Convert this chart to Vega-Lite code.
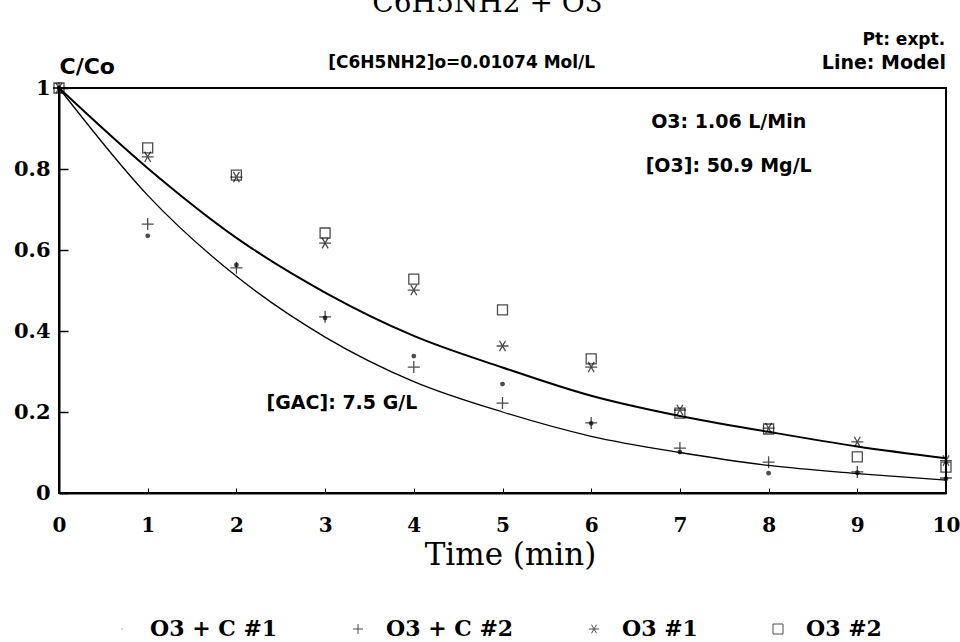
{
  "$schema": "https://vega.github.io/schema/vega-lite/v6.json",
  "autosize": {"type": "none"},
  "width": 887,
  "height": 405,
  "padding": {"left": 59, "top": 88, "right": 14, "bottom": 149},
  "background": "white",
  "config": {
    "view": {"stroke": "black", "strokeWidth": 2},
    "axis": {"grid": false, "domainColor": "black", "domainWidth": 2, "tickColor": "black", "labelColor": "black", "titleColor": "black"}
  },
  "datasets": {
    "points": [
      {"series": "O3 + C #1", "t": 0, "c": 1.0},
      {"series": "O3 + C #1", "t": 1, "c": 0.635},
      {"series": "O3 + C #1", "t": 2, "c": 0.563},
      {"series": "O3 + C #1", "t": 3, "c": 0.432},
      {"series": "O3 + C #1", "t": 4, "c": 0.338},
      {"series": "O3 + C #1", "t": 5, "c": 0.269},
      {"series": "O3 + C #1", "t": 6, "c": 0.172},
      {"series": "O3 + C #1", "t": 7, "c": 0.101},
      {"series": "O3 + C #1", "t": 8, "c": 0.049},
      {"series": "O3 + C #1", "t": 9, "c": 0.05},
      {"series": "O3 + C #1", "t": 10, "c": 0.035},
      {"series": "O3 + C #2", "t": 0, "c": 1.0},
      {"series": "O3 + C #2", "t": 1, "c": 0.664},
      {"series": "O3 + C #2", "t": 2, "c": 0.556},
      {"series": "O3 + C #2", "t": 3, "c": 0.435},
      {"series": "O3 + C #2", "t": 4, "c": 0.311},
      {"series": "O3 + C #2", "t": 5, "c": 0.222},
      {"series": "O3 + C #2", "t": 6, "c": 0.173},
      {"series": "O3 + C #2", "t": 7, "c": 0.111},
      {"series": "O3 + C #2", "t": 8, "c": 0.076},
      {"series": "O3 + C #2", "t": 9, "c": 0.052},
      {"series": "O3 + C #2", "t": 10, "c": 0.037},
      {"series": "O3 #1", "t": 0, "c": 1.0},
      {"series": "O3 #1", "t": 1, "c": 0.83},
      {"series": "O3 #1", "t": 2, "c": 0.78},
      {"series": "O3 #1", "t": 3, "c": 0.617},
      {"series": "O3 #1", "t": 4, "c": 0.501},
      {"series": "O3 #1", "t": 5, "c": 0.363},
      {"series": "O3 #1", "t": 6, "c": 0.311},
      {"series": "O3 #1", "t": 7, "c": 0.205},
      {"series": "O3 #1", "t": 8, "c": 0.16},
      {"series": "O3 #1", "t": 9, "c": 0.126},
      {"series": "O3 #1", "t": 10, "c": 0.08},
      {"series": "O3 #2", "t": 0, "c": 1.0},
      {"series": "O3 #2", "t": 1, "c": 0.852},
      {"series": "O3 #2", "t": 2, "c": 0.785},
      {"series": "O3 #2", "t": 3, "c": 0.642},
      {"series": "O3 #2", "t": 4, "c": 0.528},
      {"series": "O3 #2", "t": 5, "c": 0.452},
      {"series": "O3 #2", "t": 6, "c": 0.331},
      {"series": "O3 #2", "t": 7, "c": 0.197},
      {"series": "O3 #2", "t": 8, "c": 0.158},
      {"series": "O3 #2", "t": 9, "c": 0.089},
      {"series": "O3 #2", "t": 10, "c": 0.064}
    ],
    "model": [
      {"model": "O3", "t": 0, "c": 1.0},
      {"model": "O3", "t": 1, "c": 0.802},
      {"model": "O3", "t": 2, "c": 0.63},
      {"model": "O3", "t": 3, "c": 0.495},
      {"model": "O3", "t": 4, "c": 0.388},
      {"model": "O3", "t": 5, "c": 0.31},
      {"model": "O3", "t": 6, "c": 0.24},
      {"model": "O3", "t": 7, "c": 0.19},
      {"model": "O3", "t": 8, "c": 0.151},
      {"model": "O3", "t": 9, "c": 0.115},
      {"model": "O3", "t": 10, "c": 0.086},
      {"model": "O3 + C", "t": 0, "c": 1.0},
      {"model": "O3 + C", "t": 1, "c": 0.735},
      {"model": "O3 + C", "t": 2, "c": 0.535},
      {"model": "O3 + C", "t": 3, "c": 0.385},
      {"model": "O3 + C", "t": 4, "c": 0.275},
      {"model": "O3 + C", "t": 5, "c": 0.2},
      {"model": "O3 + C", "t": 6, "c": 0.14},
      {"model": "O3 + C", "t": 7, "c": 0.1},
      {"model": "O3 + C", "t": 8, "c": 0.068},
      {"model": "O3 + C", "t": 9, "c": 0.048},
      {"model": "O3 + C", "t": 10, "c": 0.032}
    ],
    "notes": [
      {"note": "title", "label": "C6H5NH2 + O3"},
      {"note": "pt", "label": "Pt: expt."},
      {"note": "line", "label": "Line: Model"},
      {"note": "init", "label": "[C6H5NH2]o=0.01074 Mol/L"},
      {"note": "flow", "label": "O3: 1.06 L/Min"},
      {"note": "conc", "label": "[O3]: 50.9 Mg/L"},
      {"note": "gac", "label": "[GAC]: 7.5 G/L"}
    ]
  },
  "layer": [
    {
      "data": {"name": "model"},
      "mark": {"type": "line", "interpolate": "monotone", "color": "black"},
      "encoding": {
        "x": {
          "field": "t", "type": "quantitative",
          "scale": {"domain": [0, 10], "nice": false, "zero": false},
          "axis": {
            "values": [0, 1, 2, 3, 4, 5, 6, 7, 8, 9, 10], "format": "d",
            "tickSize": -5, "tickWidth": 1, "labelPadding": 27,
            "labelFont": "DejaVu Serif", "labelFontWeight": "bold", "labelFontSize": 20,
            "labelFlush": false,
            "title": "Time (min)", "titleFont": "DejaVu Serif", "titleFontWeight": "normal", "titleFontSize": 31,
            "titleX": 451, "titleY": 71, "titleBaseline": "alphabetic", "titleAnchor": null, "titleAlign": "center"
          }
        },
        "y": {
          "field": "c", "type": "quantitative",
          "scale": {"domain": [0, 1], "nice": false, "zero": false},
          "axis": {
            "values": [0, 0.2, 0.4, 0.6, 0.8, 1],
            "labelExpr": "datum.value == 0 ? '0' : datum.value == 1 ? '1' : format(datum.value, '.1f')",
            "tickSize": -9, "tickWidth": 1.5, "labelPadding": 18,
            "labelFont": "DejaVu Serif", "labelFontWeight": "bold", "labelFontSize": 21,
            "labelFlush": false,
            "title": "C/Co", "titleFont": "DejaVu Sans", "titleFontWeight": "bold", "titleFontSize": 22,
            "titleAngle": 0, "titleX": 0, "titleY": -15, "titleAlign": "left", "titleBaseline": "alphabetic", "titleAnchor": null
          }
        },
        "detail": {"field": "model"},
        "strokeWidth": {"condition": {"test": "datum.model === 'O3'", "value": 2}, "value": 1.3}
      }
    },
    {
      "data": {"name": "points"},
      "mark": {"type": "point", "filled": false, "stroke": "black", "strokeWidth": 1.3},
      "encoding": {
        "x": {"field": "t", "type": "quantitative"},
        "y": {"field": "c", "type": "quantitative"},
        "shape": {
          "field": "series", "type": "nominal",
          "scale": {
            "domain": ["O3 + C #1", "O3 + C #2", "O3 #1", "O3 #2"],
            "range": ["M-0.05,0A0.05,0.05 0 1,0 0.05,0A0.05,0.05 0 1,0 -0.05,0Z", "M-1,0L1,0M0,-1L0,1", "M-1,0L1,0M-0.5,-0.866L0.5,0.866M-0.5,0.866L0.5,-0.866", "square"]
          },
          "legend": {
            "title": null, "orient": "none", "legendX": 52, "legendY": 530,
            "direction": "horizontal", "columns": 4, "columnPadding": 69, "padding": 0,
            "symbolSize": 100, "symbolStrokeColor": "black", "symbolFillColor": "transparent", "symbolStrokeWidth": 1,
            "labelOffset": 17, "labelFont": "DejaVu Serif", "labelFontWeight": "bold", "labelFontSize": 22, "labelColor": "black", "labelLimit": 300,
            "symbolOffset": 0
          }
        },
        "fill": {"condition": {"test": "datum.series === 'O3 + C #1'", "value": "black"}, "value": "transparent"},
        "size": {"condition": [{"test": "datum.series === 'O3 + C #1'", "value": 5000}, {"test": "datum.series === 'O3 #2'", "value": 100}], "value": 144}
      }
    },
    {
      "data": {"name": "notes"},
      "transform": [{"filter": "datum.note === 'title'"}],
      "mark": {"type": "text", "font": "DejaVu Serif", "fontSize": 28, "align": "center", "baseline": "alphabetic", "color": "black"},
      "encoding": {"x": {"datum": 4.83}, "y": {"datum": 1.188}, "text": {"field": "label"}}
    },
    {
      "data": {"name": "notes"},
      "transform": [{"filter": "datum.note === 'pt'"}],
      "mark": {"type": "text", "font": "DejaVu Sans", "fontWeight": "bold", "fontSize": 17, "align": "right", "baseline": "middle", "color": "black"},
      "encoding": {"x": {"datum": 9.99}, "y": {"datum": 1.118}, "text": {"field": "label"}}
    },
    {
      "data": {"name": "notes"},
      "transform": [{"filter": "datum.note === 'line'"}],
      "mark": {"type": "text", "font": "DejaVu Sans", "fontWeight": "bold", "fontSize": 19, "align": "right", "baseline": "middle", "color": "black"},
      "encoding": {"x": {"datum": 10.0}, "y": {"datum": 1.062}, "text": {"field": "label"}}
    },
    {
      "data": {"name": "notes"},
      "transform": [{"filter": "datum.note === 'init'"}],
      "mark": {"type": "text", "font": "DejaVu Sans", "fontWeight": "bold", "fontSize": 17, "align": "center", "baseline": "middle", "color": "black"},
      "encoding": {"x": {"datum": 4.54}, "y": {"datum": 1.062}, "text": {"field": "label"}}
    },
    {
      "data": {"name": "notes"},
      "transform": [{"filter": "datum.note === 'flow'"}],
      "mark": {"type": "text", "font": "DejaVu Sans", "fontWeight": "bold", "fontSize": 19, "align": "center", "baseline": "middle", "color": "black"},
      "encoding": {"x": {"datum": 7.55}, "y": {"datum": 0.916}, "text": {"field": "label"}}
    },
    {
      "data": {"name": "notes"},
      "transform": [{"filter": "datum.note === 'conc'"}],
      "mark": {"type": "text", "font": "DejaVu Sans", "fontWeight": "bold", "fontSize": 19, "align": "center", "baseline": "middle", "color": "black"},
      "encoding": {"x": {"datum": 7.55}, "y": {"datum": 0.807}, "text": {"field": "label"}}
    },
    {
      "data": {"name": "notes"},
      "transform": [{"filter": "datum.note === 'gac'"}],
      "mark": {"type": "text", "font": "DejaVu Sans", "fontWeight": "bold", "fontSize": 19, "align": "center", "baseline": "middle", "color": "black"},
      "encoding": {"x": {"datum": 3.19}, "y": {"datum": 0.221}, "text": {"field": "label"}}
    }
  ]
}
